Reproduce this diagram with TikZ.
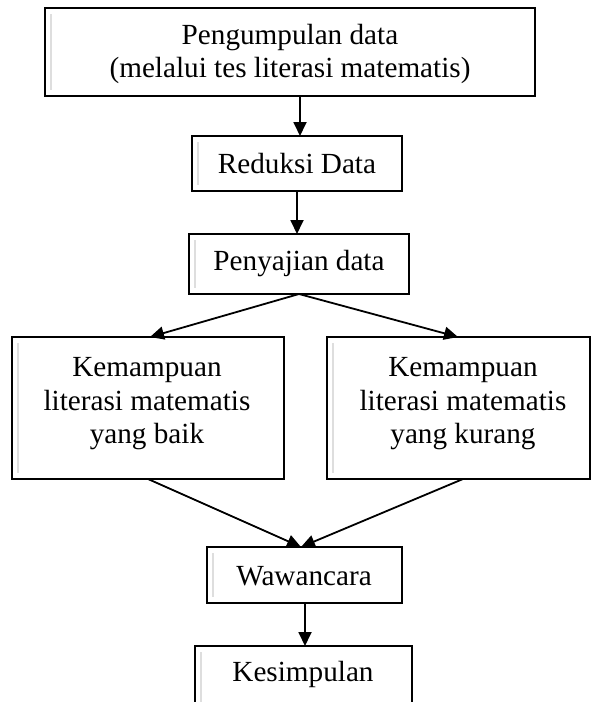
\documentclass[tikz,border=0pt]{standalone}
\usepackage{fontspec}
\setmainfont{Liberation Serif}
\usetikzlibrary{arrows.meta,calc}
\begin{document}
\begin{tikzpicture}[x=1pt,y=-1pt,
  box/.style={draw=black,line width=1.8pt,fill=white},
  lbl/.style={font=\fontsize{29.2}{33.5}\selectfont,align=center,inner sep=0pt},
  arr/.style={line width=1.8pt,-{Triangle[length=14pt,width=13pt]}},
  ghost/.style={draw=black!13,line width=1.5pt}]
\useasboundingbox (0,0) rectangle (592,702);
\clip (0,0) rectangle (592,702);

% process boxes
\draw[box] (45,8) rectangle (535,96) node[pos=0.5,name=collect] {};
\node[lbl] (collectT) at (290,54) {Pengumpulan data\\(melalui tes literasi matematis)};

\draw[box] (192,136) rectangle (402,191) node[pos=0.5,name=reduce] {};
\node[lbl] (reduceT) at (297,164) {Reduksi Data};

\draw[box] (189,234) rectangle (409,294) node[pos=0.5,name=present] {};
\node[lbl] (presentT) at (299,264) {Penyajian data};

\draw[box] (12,337) rectangle (284,479) node[pos=0.5,name=good] {};
\node[lbl] (goodT) at (147,404) {Kemampuan\\literasi matematis\\yang baik};

\draw[box] (327,337) rectangle (590,479) node[pos=0.5,name=weak] {};
\node[lbl] (weakT) at (463,404) {Kemampuan\\literasi matematis\\yang kurang};

\draw[box] (207,547) rectangle (402,603) node[pos=0.5,name=interview] {};
\node[lbl] (interviewT) at (304,576) {Wawancara};

\draw[box] (195,646) rectangle (412,740) node[pos=0.5,name=concl] {};
\node[lbl] (conclT) at (303,674) {Kesimpulan};

% faint inner edge lines
\draw[ghost] (51,14) -- (51,90);
\draw[ghost] (198,142) -- (198,185);
\draw[ghost] (195,240) -- (195,288);
\draw[ghost] (18,343) -- (18,473);
\draw[ghost] (333,343) -- (333,473);
\draw[ghost] (213,553) -- (213,597);
\draw[ghost] (201,652) -- (201,702);

% anchor points on box edges
\coordinate (c1) at (300,96);
\coordinate (r1) at (300,136);
\coordinate (r2) at (297,191);
\coordinate (p1) at (297,234);
\coordinate (p2) at (299,294);
\coordinate (g1) at (150,337);
\coordinate (w1) at (458,337);
\coordinate (g2) at (148,479);
\coordinate (w2) at (463,479);
\coordinate (i1) at (301,547);
\coordinate (i2) at (305,603);
\coordinate (k1) at (305,646);

% connectors
\draw[arr] (c1) -- (r1);
\draw[arr] (r2) -- (p1);
\draw[arr] (p2) -- (g1);
\draw[arr] (p2) -- (w1);
\draw[arr] (g2) -- (i1);
\draw[arr] (w2) -- (i1);
\draw[arr] (i2) -- (k1);
\end{tikzpicture}
\end{document}
